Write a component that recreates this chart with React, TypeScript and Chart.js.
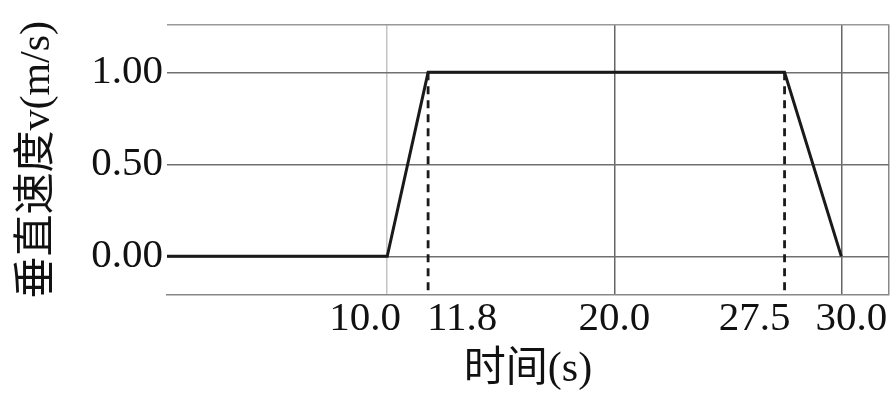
import React, { useEffect, useRef } from 'react';
import { Chart, registerables } from 'chart.js';

Chart.register(...registerables);

// ---- data ----
const timeS = [0, 10.0, 11.8, 27.5, 30.0];
const velocityMS = [0, 0, 1.0, 1.0, 0];
const markerTimes = [11.8, 27.5];
const markerTop = 1.0;
const xTickValues = [10.0, 11.8, 20.0, 27.5, 30.0];
const xTickLabels = ['10.0', '11.8', '20.0', '27.5', '30.0'];
const yTickValues = [0, 0.5, 1.0];
const yTickLabels = ['0.00', '0.50', '1.00'];
const xTitle = '时间(s)';
const yTitle = '垂直速度v(m/s)';

const X_MIN = 0.3;
const X_MAX = 32.1;
const Y_MIN = -0.21;
const Y_MAX = 1.26;

const SERIF = "'Liberation Serif', 'DejaVu Serif', 'Noto Sans CJK SC', serif";

// horizontal nudges (px) so crowded x labels don't collide, as in the original
const xLabelNudge: Record<string, number> = { '10.0': -22, '11.8': 34, '27.5': -30, '30.0': 10 };

const nudgeLabels = {
  id: 'nudgeLabels',
  beforeDraw(chart: any) {
    const scale = chart.scales.x;
    if (!scale) return;
    const items = scale.getLabelItems(chart.chartArea);
    items.forEach((it: any) => {
      const d = xLabelNudge[String(it.label)];
      if (d && !it._nudged) {
        it.options.translation = [it.options.translation[0] + d, it.options.translation[1]];
        it._nudged = true;
      }
    });
  },
};

export default function App() {
  const ref = useRef<HTMLCanvasElement | null>(null);

  useEffect(() => {
    document.body.style.margin = '0';
    const canvas = ref.current;
    if (!canvas) return;

    const mainLine = timeS.map((t, i) => ({ x: t, y: velocityMS[i] }));
    const markerSets = markerTimes.map((t) => ({
      type: 'scatter' as const,
      data: [
        { x: t, y: markerTop },
        { x: t, y: Y_MIN },
      ],
      showLine: true,
      borderColor: '#1a1a1a',
      borderWidth: 2.8,
      borderDash: [8, 6],
      pointRadius: 0,
      fill: false,
    }));

    const chart = new Chart(canvas, {
      type: 'scatter',
      data: {
        datasets: [
          {
            data: mainLine,
            showLine: true,
            borderColor: '#1a1a1a',
            borderWidth: 3,
            pointRadius: 0,
            fill: false,
          },
          ...markerSets,
        ],
      },
      plugins: [nudgeLabels],
      options: {
        animation: false,
        responsive: false,
        devicePixelRatio: 1,
        layout: { padding: { top: 20, right: 2, left: 0, bottom: 0 } },
        plugins: {
          legend: { display: false },
          tooltip: { enabled: false },
        },
        scales: {
          x: {
            type: 'linear',
            min: X_MIN,
            max: X_MAX,
            afterBuildTicks: (scale: any) => {
              scale.ticks = [...xTickValues, X_MAX].map((v) => ({ value: v }));
            },
            afterFit: (scale: any) => {
              scale.height = 100;
              scale.paddingRight = 0;
              scale.paddingLeft = 0;
            },
            ticks: {
              autoSkip: false,
              maxRotation: 0,
              padding: 4,
              color: '#111',
              font: { family: SERIF, size: 41, lineHeight: 1 },
              callback: (value: any) => {
                const i = xTickValues.indexOf(Number(value));
                return i >= 0 ? xTickLabels[i] : '';
              },
            },
            grid: {
              drawTicks: false,
              lineWidth: 1.5,
              color: (ctx: any) => {
                const v = ctx.tick ? ctx.tick.value : null;
                if (v === 10.0) return '#c4c4c4';
                if (v === 20.0 || v === 30.0) return '#666';
                if (v === X_MAX) return '#888';
                return 'rgba(0,0,0,0)';
              },
            },
            border: { display: true, color: '#888', width: 1.5 },
            title: {
              display: true,
              text: xTitle,
              color: '#111',
              font: { family: SERIF, size: 42, lineHeight: 1.2 },
              padding: { top: 0, bottom: 0 },
            },
          },
          y: {
            type: 'linear',
            min: Y_MIN,
            max: Y_MAX,
            afterBuildTicks: (scale: any) => {
              scale.ticks = [Y_MIN, ...yTickValues, Y_MAX].map((v) => ({ value: v }));
            },
            afterFit: (scale: any) => {
              scale.width = 167;
            },
            ticks: {
              autoSkip: false,
              padding: 4,
              color: '#111',
              font: { family: SERIF, size: 41, lineHeight: 1 },
              callback: (value: any) => {
                const i = yTickValues.indexOf(Number(value));
                return i >= 0 ? yTickLabels[i] : '';
              },
            },
            grid: {
              drawTicks: false,
              lineWidth: 1.5,
              color: (ctx: any) => {
                const v = ctx.tick ? ctx.tick.value : null;
                if (v === Y_MIN) return 'rgba(0,0,0,0)';
                if (v === Y_MAX) return '#999';
                return '#707070';
              },
            },
            border: { display: false },
            title: {
              display: true,
              text: yTitle,
              color: '#111',
              font: { family: SERIF, size: 42, lineHeight: 1.2 },
              padding: { top: 13, bottom: 0 },
            },
          },
        },
      },
    });

    return () => chart.destroy();
  }, []);

  return (
    <div style={{ width: 891, height: 395, background: '#fff' }}>
      <canvas ref={ref} width={891} height={395} style={{ display: 'block' }} />
    </div>
  );
}
